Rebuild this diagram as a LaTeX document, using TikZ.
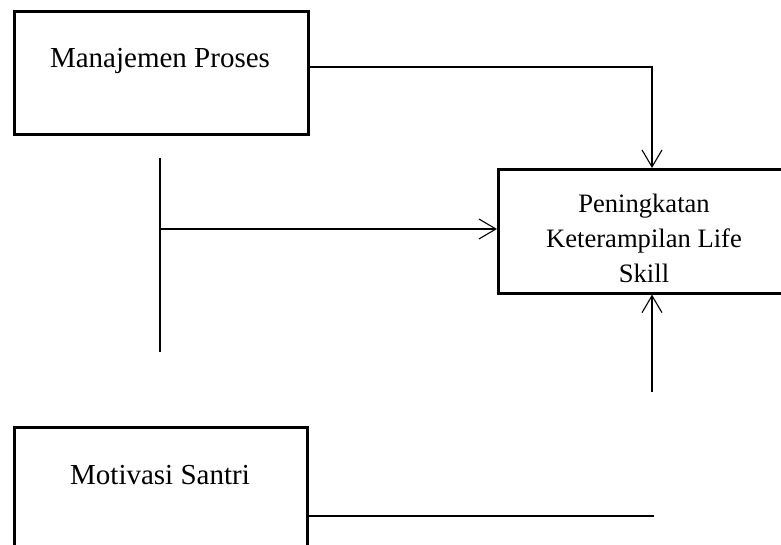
\documentclass[tikz,border=0pt]{standalone}
\usepackage{fontspec}
\setmainfont{Liberation Serif}
\usetikzlibrary{arrows.meta}
\begin{document}
\begin{tikzpicture}[x=0.5pt,y=-0.5pt,
  box/.style={draw,line width=1.3pt,rectangle,inner sep=0pt},
  conn/.style={line width=0.55pt},
  arr/.style={conn,-{Straight Barb[length=8.5pt,width=10pt,line width=0.55pt]}},
  lbl/.style={inner sep=0pt,align=center,font=\fontsize{14.5pt}{17.5pt}\selectfont},
  lbls/.style={inner sep=0pt,align=center,font=\fontsize{13.3pt}{17.5pt}\selectfont}]
\useasboundingbox (0,0) rectangle (781,545);
\clip (0,0) rectangle (781,545);
\node[box,minimum width=147pt,minimum height=61.5pt,anchor=north west] (mp) at (13,10) {};
\node[lbl] (mpt) at (160,61) {Manajemen Proses};
\node[box,minimum width=147.5pt,minimum height=62pt,anchor=north west] (pk) at (497,168) {};
\node[lbls] (pkt) at (644,238) {Peningkatan\\Keterampilan Life\\Skill};
\node[box,minimum width=146.5pt,minimum height=70pt,anchor=north west] (ms) at (13,426) {};
\node[lbl] (mst) at (160,475) {Motivasi Santri};
\coordinate (a1) at (652,67);
\coordinate (v1) at (160,158);
\coordinate (v2) at (160,352);
\coordinate (h1) at (160,229);
\coordinate (u1) at (652,392);
\coordinate (b1) at (654,516);
\draw[arr] (mp.east |- a1) -- (a1) -- (a1 |- pk.north);
\draw[conn] (v1) -- (v2);
\draw[arr] (h1) -- (h1 -| pk.west);
\draw[arr] (u1) -- (u1 |- pk.south);
\draw[conn] (ms.east |- b1) -- (b1);
\end{tikzpicture}
\end{document}
